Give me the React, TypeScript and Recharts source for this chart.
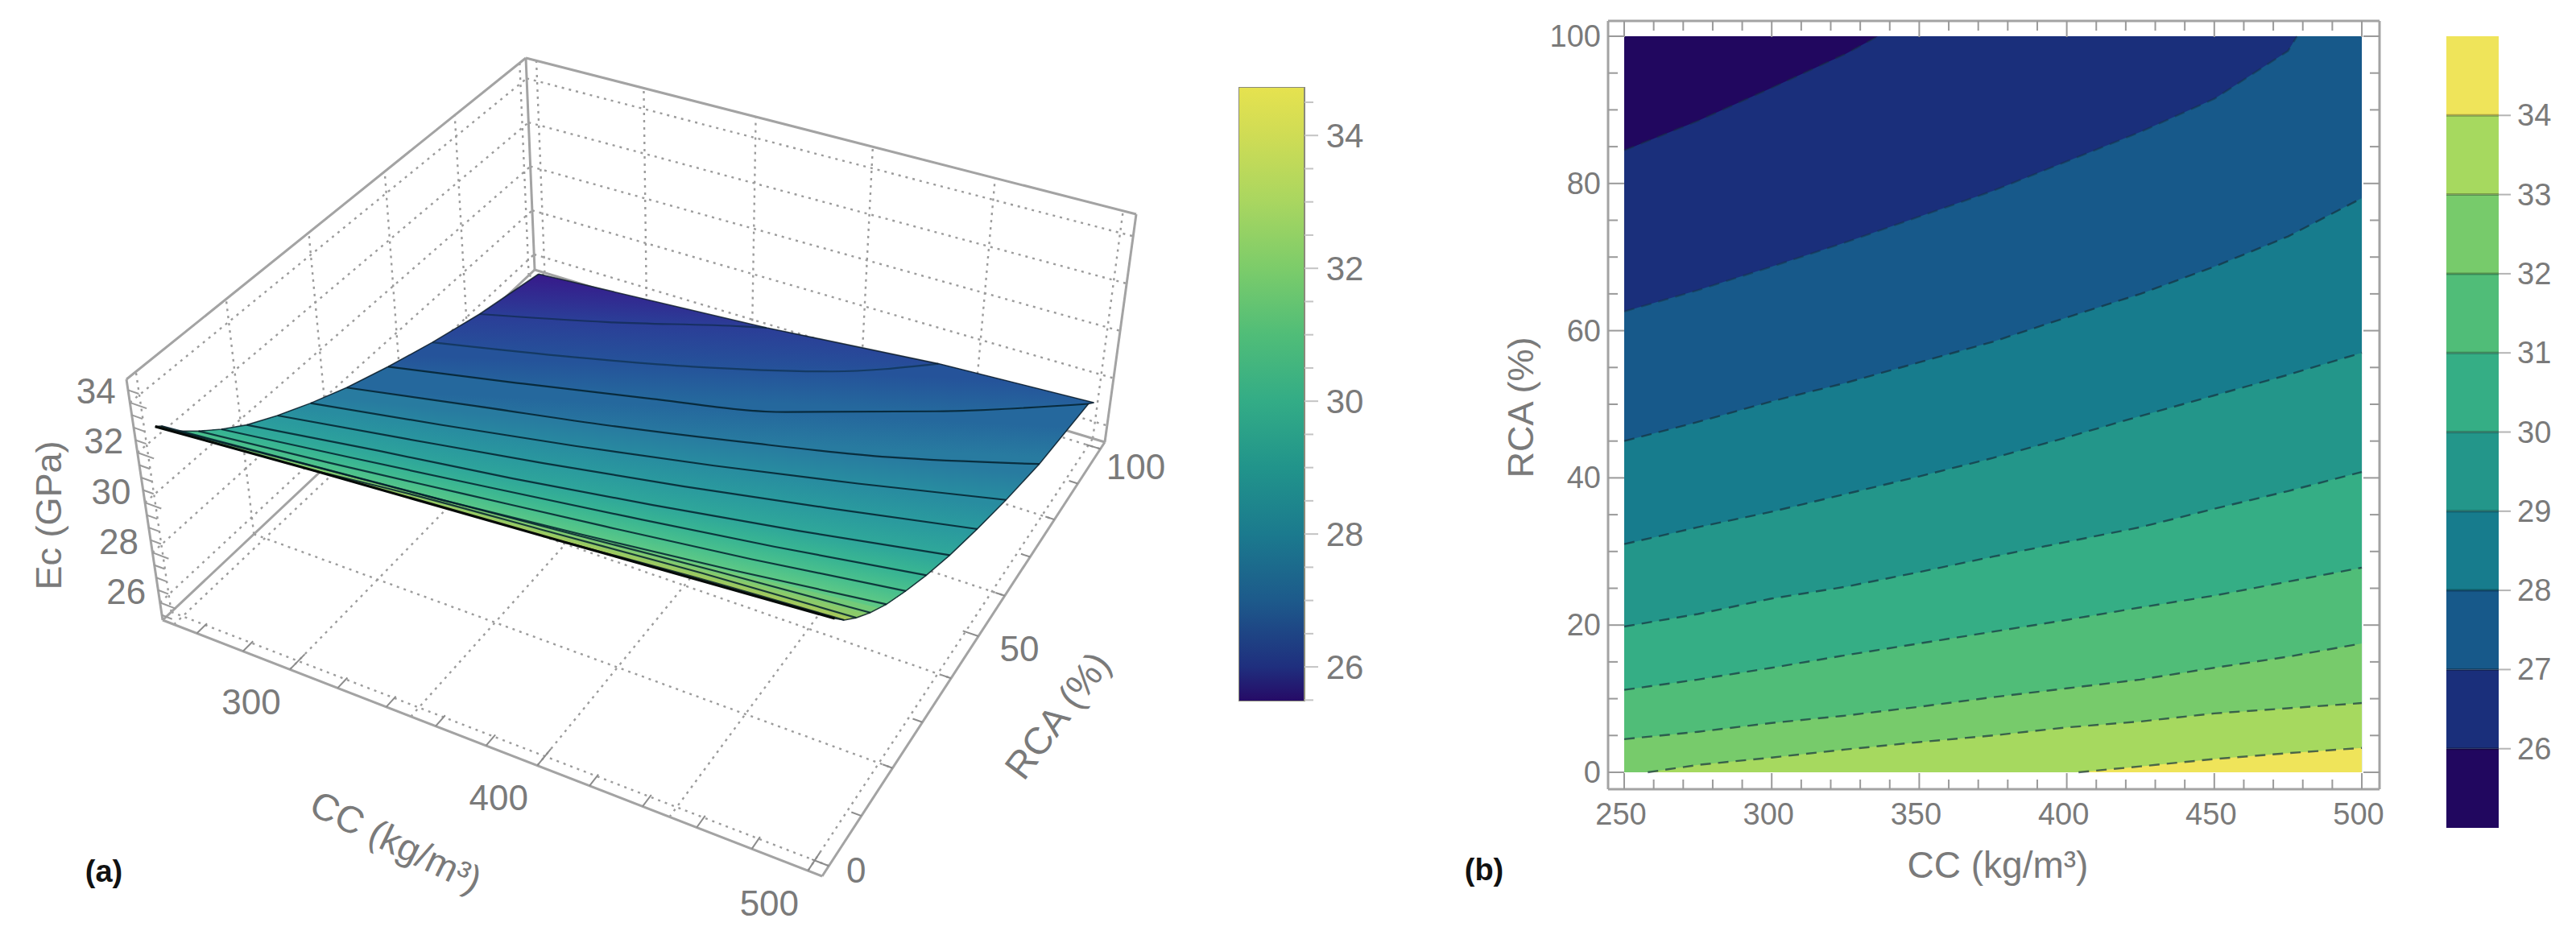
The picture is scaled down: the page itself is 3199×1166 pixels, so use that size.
import React from "react";
import {
  Bar,
  BarChart,
  ReferenceLine,
  Scatter,
  ScatterChart,
  XAxis,
  YAxis,
} from "recharts";

/* ---------- values ---------- */

// dashed contour lines of panel (b): CC (kg/m3) and RCA (%) along each line
const contourLevels = [26, 27, 28, 29, 30, 31, 32, 33, 34];
const fullCc = [250, 275, 300, 325, 350, 375, 400, 425, 450, 475, 500];
const cc26 = [250, 275, 300, 325, 336];
const rca26 = [84.5, 88.5, 93, 97.6, 100];
const cc27 = [250, 275, 300, 325, 350, 375, 400, 425, 450, 475, 478];
const rca27 = [62.6, 65.5, 68.7, 72, 75.5, 79, 83, 87, 91.5, 98, 100];
const rca28 = [45, 47.6, 50.4, 52.9, 55.7, 58.5, 61.8, 65, 68.7, 72.8, 78];
const rca29 = [31, 33.3, 35.4, 37.8, 40.2, 42.7, 45.5, 48.4, 51.2, 54, 57];
const rca30 = [19.8, 21.5, 23.6, 25.2, 27.2, 29.3, 31.3, 33.3, 35.8, 38.2, 40.8];
const rca31 = [11.2, 12.6, 14.2, 15.9, 17.5, 19.1, 20.7, 22.4, 24, 25.9, 27.8];
const rca32 = [4.5, 5.5, 6.7, 7.7, 8.9, 10.2, 11.4, 12.6, 14.2, 15.7, 17.5];
const cc33 = [258, 275, 300, 325, 350, 375, 400, 425, 450, 475, 500];
const rca33 = [0, 1, 2, 3.1, 4.1, 5, 6.1, 6.9, 8, 8.7, 9.4];
const cc34 = [404, 425, 450, 475, 500];
const rca34 = [0, 0.8, 1.8, 2.6, 3.3];

const contourCc = [cc26, cc27, fullCc, fullCc, fullCc, fullCc, fullCc, cc33, cc34];
const contourRca = [rca26, rca27, rca28, rca29, rca30, rca31, rca32, rca33, rca34];

// black mesh lines on the surface of panel (a)
const meshLevels = [26.16, 26.81, 27.47, 28.13, 28.79, 29.44, 30.1, 30.76, 31.41, 32.07, 32.73, 33.39, 34.04];
const meshGrid = [250, 300, 350, 400, 450, 500];
const meshCc = [
  [250, 300, 350, 359],
  [250, 300, 350, 400, 435],
  meshGrid, meshGrid, meshGrid, meshGrid, meshGrid, meshGrid, meshGrid, meshGrid, meshGrid,
  [315, 350, 400, 450, 500],
  [410, 450, 500],
];
const meshRca = [
  [81, 89.1, 98.5, 100],
  [66.8, 73.3, 80.7, 90, 100],
  [54.3, 60.1, 66.2, 73, 84, 97],
  [43.2, 48.5, 53.7, 59.7, 66.4, 75.3],
  [34, 38.6, 43.5, 48.9, 54.9, 61.4],
  [26, 30.2, 34.5, 39.2, 44.4, 49.9],
  [18.9, 22.7, 26.2, 30.2, 34.6, 39.5],
  [13.3, 16.5, 19.8, 23.2, 26.8, 30.9],
  [8.5, 11.1, 14, 16.9, 20, 23.6],
  [4.2, 6.4, 8.5, 11, 13.8, 17],
  [1.2, 3.3, 5.4, 7.5, 9.7, 11.6],
  [0, 1.8, 3.7, 5.6, 7],
  [0, 1.6, 3.1],
];

// the four corners of the response surface
const cornerCc = [250, 500, 500, 250];
const cornerRca = [100, 100, 0, 0];
const cornerEc = [25.5, 27.1, 34.7, 32.9];

// panel (b)
const bandColors = ["#21075f", "#1a2f7b", "#17598a", "#177c8d", "#23968a", "#35ae85", "#50bd78", "#77cb6b", "#a6d95f", "#efe45a"];
const bandSizes = [26, 1, 1, 1, 1, 1, 1, 1, 1, 1];
const ccTicks = [250, 260, 270, 280, 290, 300, 310, 320, 330, 340, 350, 360, 370, 380, 390, 400, 410, 420, 430, 440, 450, 460, 470, 480, 490, 500];
const ccLabels = [250, 300, 350, 400, 450, 500];
const rcaTicks = [0, 5, 10, 15, 20, 25, 30, 35, 40, 45, 50, 55, 60, 65, 70, 75, 80, 85, 90, 95, 100];
const rcaLabels = [0, 20, 40, 60, 80, 100];
const barTicksB = [26, 27, 28, 29, 30, 31, 32, 33, 34];

// panel (a)
const surfaceLevels = [25.5, 26, 27, 28, 29, 30, 31, 32, 33, 34, 34.7];
const surfaceColors = ["#37198a", "#2d3796", "#235a9b", "#2878a0", "#2891a0", "#2da59b", "#3cb991", "#5ac887", "#7ccb72", "#a6c85a", "#b6c850"];
const barLevelsA = [25.48, 26, 27, 28, 29, 30, 31, 32, 33, 34, 34.73];
const barColorsA = ["#260a66", "#1f2f7e", "#1d5a8b", "#1b7a8e", "#21948b", "#33ac86", "#50bd78", "#7ccc6a", "#a9d660", "#cfdc55", "#e6e24f"];
const barTicksA = [25.5, 26, 26.5, 27, 27.5, 28, 28.5, 29, 29.5, 30, 30.5, 31, 31.5, 32, 32.5, 33, 33.5, 34, 34.5];
const ccGrid = [250, 300, 350, 400, 450, 500];
const rcaGrid = [0, 20, 40, 60, 80, 100];
const ecGrid = [26, 28, 30, 32, 34];
const ccTicks3d = [260, 280, 300, 320, 340, 360, 380, 400, 420, 440, 460, 480, 500];
const rcaTicks3d = [0, 10, 20, 30, 40, 50, 60, 70, 80, 90, 100];
const ecTicks3d = [25.5, 26, 26.5, 27, 27.5, 28, 28.5, 29, 29.5, 30, 30.5, 31, 31.5, 32, 32.5, 33, 33.5, 34, 34.5];

/* ---------- shared look ---------- */

const FONT = "'Liberation Sans', Arial, sans-serif";
const TEXT = "#7a7a7a";
const EDGE = "#a3a3a3";

type P = { x: number; y: number };
type P3 = { cc: number; rca: number; ec: number };

/* ---------- box projection for panel (a) ---------- */

const ccLo = 245, ccHi = 505, rcaLo = -2, rcaHi = 102, ecLo = 25.3, ecHi = 34.93;

function squareToQuad(p00: number[], p10: number[], p11: number[], p01: number[]) {
  const [x0, y0] = p00, [x1, y1] = p10, [x2, y2] = p11, [x3, y3] = p01;
  const dx1 = x1 - x2, dx2 = x3 - x2, sx = x0 - x1 + x2 - x3;
  const dy1 = y1 - y2, dy2 = y3 - y2, sy = y0 - y1 + y2 - y3;
  const den = dx1 * dy2 - dx2 * dy1;
  const g = (sx * dy2 - dx2 * sy) / den;
  const h = (dx1 * sy - sx * dy1) / den;
  const a = x1 - x0 + g * x1, b = x3 - x0 + h * x3;
  const d = y1 - y0 + g * y1, e = y3 - y0 + h * y3;
  return (u: number, v: number): P => {
    const w = g * u + h * v + 1;
    return { x: (a * u + b * v + x0) / w, y: (d * u + e * v + y0) / w };
  };
}

const floorMap = squareToQuad([202, 770], [1021, 1088], [1372, 549], [664, 335]);
const topMap = squareToQuad([157, 471], [1048, 780], [1411, 266], [653, 72]);

function project(cc: number, rca: number, ec: number): P {
  const u = (cc - ccLo) / (ccHi - ccLo);
  const v = (rca - rcaLo) / (rcaHi - rcaLo);
  const w = (ec - ecLo) / (ecHi - ecLo);
  const a = floorMap(u, v), b = topMap(u, v);
  return { x: a.x + (b.x - a.x) * w, y: a.y + (b.y - a.y) * w };
}

/* ---------- polygons between level lines, used by both panels ---------- */

const buildLines = (levels: number[], ccs: number[][], rcas: number[][]): P3[][] =>
  levels.map((ec, i) => ccs[i].map((cc, j) => ({ cc, rca: rcas[i][j], ec })));

// position along the edge of the CC/RCA square, clockwise from the far corner
function edgePos(p: P3) {
  if (p.rca === 100) return p.cc - 250;
  if (p.cc === 500) return 350 - p.rca;
  if (p.rca === 0) return 850 - p.cc;
  return 600 + p.rca;
}

function buildPerimeter(lines: P3[][]): P3[] {
  return [
    ...cornerCc.map((cc, i) => ({ cc, rca: cornerRca[i], ec: cornerEc[i] })),
    ...lines.flatMap((c) => [c[0], c[c.length - 1]]),
  ].sort((a, b) => edgePos(a) - edgePos(b));
}

// the whole square, then everything at or above each level line
function buildRegions(lines: P3[][], perimeter: P3[]): P3[][] {
  return [
    perimeter,
    ...lines.map((c) => {
      const from = edgePos(c[c.length - 1]);
      const to = edgePos(c[0]);
      return [...c, ...perimeter.filter((p) => edgePos(p) > from && edgePos(p) < to)];
    }),
  ];
}

const contours = buildLines(contourLevels, contourCc, contourRca);
const contourRegions = buildRegions(contours, buildPerimeter(contours));
const mesh = buildLines(meshLevels, meshCc, meshRca);
const meshPerimeter = buildPerimeter(mesh);
const meshRegions = buildRegions(mesh, meshPerimeter);

const closed = <T,>(pts: T[]): T[] => [...pts, pts[0]];
const proj = (p: P3) => project(p.cc, p.rca, p.ec);
const flat = (p: P3): P => ({ x: p.cc, y: p.rca });

const hex = (c: string) => [1, 3, 5].map((i) => parseInt(c.slice(i, i + 2), 16));
function surfaceColour(ec: number) {
  let i = 0;
  while (i < surfaceLevels.length - 2 && ec > surfaceLevels[i + 1]) i++;
  const t = Math.min(1, Math.max(0, (ec - surfaceLevels[i]) / (surfaceLevels[i + 1] - surfaceLevels[i])));
  const a = hex(surfaceColors[i]), b = hex(surfaceColors[i + 1]);
  return `rgb(${a.map((v, k) => Math.round(v + (b[k] - v) * t)).join(",")})`;
}

// each band gets a gradient running square to the mesh line that bounds it
function bandGradient(i: number) {
  const far = meshPerimeter[0];
  const near = meshPerimeter.find((p) => p.cc === 500 && p.rca === 0) as P3;
  const upper = i === 0 ? mesh[0] : mesh[i - 1];
  const start = i === 0 ? far : upper[Math.floor(upper.length / 2)];
  const lower = mesh[i];
  const end = lower
    ? lower.reduce((best, p) => (Math.abs(p.cc - start.cc) < Math.abs(best.cc - start.cc) ? p : best), lower[0])
    : near;
  const a = proj(start), b = proj(end);
  const c0 = proj(upper[0]), c1 = proj(upper[upper.length - 1]);
  const len = Math.hypot(c1.x - c0.x, c1.y - c0.y);
  const nx = -(c1.y - c0.y) / len, ny = (c1.x - c0.x) / len;
  const t = (b.x - a.x) * nx + (b.y - a.y) * ny;
  return { x1: a.x, y1: a.y, x2: a.x + nx * t, y2: a.y + ny * t, from: start.ec, to: end.ec };
}

/* ---------- small drawing helpers ---------- */

const NoMark = () => null;

// a Scatter whose joined line is the mark
function lineSeries(key: string, pts: P[], stroke: string, width: number, dash?: string, fill = "none", opacity = 1, curve: any = "linear") {
  return (
    <Scatter
      key={key}
      data={pts}
      shape={NoMark}
      isAnimationActive={false}
      lineJointType={curve}
      line={{ stroke, strokeWidth: width, strokeDasharray: dash, fill, strokeOpacity: opacity }}
    />
  );
}

const TextMark = (p: any) => {
  const d = p.payload;
  return (
    <text
      x={p.cx}
      y={p.cy}
      textAnchor="middle"
      dominantBaseline="central"
      fontFamily={FONT}
      fontSize={d.size}
      fill={d.color ?? TEXT}
      fontWeight={d.weight ?? 400}
      transform={d.angle ? `rotate(${d.angle} ${p.cx} ${p.cy})` : undefined}
    >
      {d.label}
    </text>
  );
};

/* ---------- panel (a) ---------- */

const line3 = (a: number[], b: number[]): P[] => [project(a[0], a[1], a[2]), project(b[0], b[1], b[2])];

function Surface3D() {
  const dotted = "3 6";
  const gridGrey = "#9c9c9c";
  const series: React.ReactNode[] = [];

  // walls and floor grid
  ecGrid.forEach((z) => {
    series.push(lineSeries(`gz-b${z}`, line3([ccLo, rcaHi, z], [ccHi, rcaHi, z]), gridGrey, 2.4, dotted));
    series.push(lineSeries(`gz-l${z}`, line3([ccLo, rcaLo, z], [ccLo, rcaHi, z]), gridGrey, 2.4, dotted));
  });
  ccGrid.forEach((c) => {
    series.push(lineSeries(`gc-w${c}`, line3([c, rcaHi, ecLo], [c, rcaHi, ecHi]), gridGrey, 2.4, dotted));
    series.push(lineSeries(`gc-f${c}`, line3([c, rcaLo, ecLo], [c, rcaHi, ecLo]), gridGrey, 2.4, dotted));
  });
  rcaGrid.forEach((r) => {
    series.push(lineSeries(`gr-w${r}`, line3([ccLo, r, ecLo], [ccLo, r, ecHi]), gridGrey, 2.4, dotted));
    series.push(lineSeries(`gr-f${r}`, line3([ccLo, r, ecLo], [ccHi, r, ecLo]), gridGrey, 2.4, dotted));
  });

  // box edges
  const edges: number[][][] = [
    [[ccLo, rcaLo, ecHi], [ccLo, rcaHi, ecHi]],
    [[ccLo, rcaHi, ecHi], [ccHi, rcaHi, ecHi]],
    [[ccLo, rcaLo, ecLo], [ccLo, rcaLo, ecHi]],
    [[ccLo, rcaHi, ecLo], [ccLo, rcaHi, ecHi]],
    [[ccHi, rcaHi, ecLo], [ccHi, rcaHi, ecHi]],
    [[ccLo, rcaLo, ecLo], [ccHi, rcaLo, ecLo]],
    [[ccHi, rcaLo, ecLo], [ccHi, rcaHi, ecLo]],
    [[ccLo, rcaLo, ecLo], [ccLo, rcaHi, ecLo]],
    [[ccLo, rcaHi, ecLo], [ccHi, rcaHi, ecLo]],
  ];
  edges.forEach((e, i) => series.push(lineSeries(`edge${i}`, line3(e[0], e[1]), EDGE, 3)));

  // ticks
  ccTicks3d.forEach((c) => {
    const len = c % 100 === 0 ? 3.6 : 2.4;
    series.push(lineSeries(`tc${c}`, line3([c, rcaLo, ecLo], [c, rcaLo + len, ecLo]), "#8c8c8c", 2));
  });
  rcaTicks3d.forEach((r) => {
    const len = r % 50 === 0 ? 6 : 3.6;
    series.push(lineSeries(`tr${r}`, line3([ccHi, r, ecLo], [ccHi - len, r, ecLo]), "#8c8c8c", 2));
  });
  ecTicks3d.forEach((z) => {
    const len = z % 2 === 0 ? 7 : 4.5;
    series.push(lineSeries(`tz${z}`, line3([ccLo, rcaLo, z], [ccLo + len, rcaLo, z]), "#9a9a9a", 2));
  });

  // surface: paint the regions from the lowest level up
  meshRegions.forEach((r, i) => {
    series.push(lineSeries(`reg${i}`, closed(r).map(proj), "none", 0, undefined, `url(#surf${i})`));
  });
  mesh.forEach((c, i) => {
    series.push(lineSeries(`con${i}`, c.map(proj), "#03212e", 2.2, undefined, "none", i < 2 ? 0.5 : 0.85, "monotoneX"));
  });
  series.push(lineSeries("outline", closed(meshPerimeter).map(proj), "#0c1c24", 1.6, undefined, "none", 0.8));
  series.push(lineSeries("front", meshPerimeter.filter((p) => p.rca === 0).map(proj), "#050a08", 3.2));

  const ccLabelData = [300, 400, 500].map((c) => {
    const p = project(c, rcaLo, ecLo);
    return { x: p.x - 48, y: p.y + 40, label: String(c), size: 44 };
  });
  const rcaLabelData = [
    { v: 0, dx: 34, dy: 5 },
    { v: 50, dx: 51, dy: 16 },
    { v: 100, dx: 44, dy: 22 },
  ].map(({ v, dx, dy }) => {
    const p = project(ccHi, v, ecLo);
    return { x: p.x + dx, y: p.y + dy, label: String(v), size: 44 };
  });
  const ecLabelData = ecGrid.map((z) => {
    const p = project(ccLo, rcaLo, z);
    return { x: p.x - 42, y: p.y - 14, label: String(z), size: 44 };
  });
  const titleData = [
    { x: 492, y: 1045, label: "CC (kg/m³)", size: 47, angle: 26 },
    { x: 1313, y: 888, label: "RCA (%)", size: 47, angle: -53 },
    { x: 60, y: 640, label: "Ec (GPa)", size: 45, angle: -90 },
    { x: 129, y: 1082, label: "(a)", size: 38, weight: 700, color: "#111111" },
  ];

  return (
    <ScatterChart width={1500} height={1166} margin={{ top: 0, right: 0, bottom: 0, left: 0 }}>
      <defs>
        {meshRegions.map((_, i) => {
          const g = bandGradient(i);
          return (
            <linearGradient key={i} id={`surf${i}`} gradientUnits="userSpaceOnUse" x1={g.x1} y1={g.y1} x2={g.x2} y2={g.y2}>
              <stop offset="0" stopColor={surfaceColour(g.from)} />
              <stop offset="1" stopColor={surfaceColour(g.to)} />
            </linearGradient>
          );
        })}
      </defs>
      <XAxis type="number" dataKey="x" domain={[0, 1500]} hide allowDataOverflow />
      <YAxis type="number" dataKey="y" domain={[0, 1166]} reversed hide allowDataOverflow />
      {series}
      <Scatter data={[...ccLabelData, ...rcaLabelData, ...ecLabelData, ...titleData]} shape={TextMark} isAnimationActive={false} />
    </ScatterChart>
  );
}

const barDomainA = [barLevelsA[0], barLevelsA[barLevelsA.length - 1]];

const BarTickA = ({ x, y, payload }: any) => {
  const major = payload.value % 2 === 0;
  return (
    <g>
      <line x1={x} x2={x + (major ? 17 : 11)} y1={y} y2={y} stroke="#c4c4c4" strokeWidth={2} />
      {major && (
        <text x={x + 50} y={y} textAnchor="middle" dominantBaseline="central" fontFamily={FONT} fontSize={42} fill={TEXT}>
          {payload.value}
        </text>
      )}
    </g>
  );
};

function ColorBarA() {
  const span = barDomainA[1] - barDomainA[0];
  return (
    <BarChart width={202} height={763} data={[{ name: "Ec", top: barDomainA[1] }]} margin={{ top: 0, right: 0, bottom: 0, left: 0 }} barCategoryGap={0}>
      <defs>
        <linearGradient id="barA" x1="0" y1="1" x2="0" y2="0">
          {barLevelsA.map((v, i) => (
            <stop key={v} offset={(v - barDomainA[0]) / span} stopColor={barColorsA[i]} />
          ))}
        </linearGradient>
      </defs>
      <XAxis dataKey="name" hide />
      <YAxis orientation="right" width={120} type="number" domain={barDomainA} ticks={barTicksA} interval={0} allowDataOverflow tick={BarTickA} tickLine={false} axisLine={false} tickSize={0} tickMargin={0} />
      <Bar dataKey="top" fill="url(#barA)" stroke="#8a8a7a" strokeWidth={2} isAnimationActive={false} />
    </BarChart>
  );
}

/* ---------- panel (b) ---------- */

const xTickBottom = ({ x, y, payload }: any) => {
  const major = ccLabels.includes(payload.value);
  return (
    <g>
      <line x1={x} x2={x} y1={y} y2={y - (major ? 20 : 12)} stroke="#9a9a9a" strokeWidth={2} />
      {major && (
        <text x={x - 4} y={y + 31} textAnchor="middle" dominantBaseline="central" fontFamily={FONT} fontSize={38} fill={TEXT}>
          {payload.value}
        </text>
      )}
    </g>
  );
};

const xTickTop = ({ x, y, payload }: any) => (
  <line x1={x} x2={x} y1={y} y2={y + (ccLabels.includes(payload.value) ? 20 : 12)} stroke="#9a9a9a" strokeWidth={2} />
);

const yTickLeft = ({ x, y, payload }: any) => {
  const major = rcaLabels.includes(payload.value);
  return (
    <g>
      <line x1={x} x2={x + (major ? 20 : 12)} y1={y} y2={y} stroke="#9a9a9a" strokeWidth={2} />
      {major && (
        <text x={x - 9} y={y} textAnchor="end" dominantBaseline="central" fontFamily={FONT} fontSize={38} fill={TEXT}>
          {payload.value}
        </text>
      )}
    </g>
  );
};

const yTickRight = ({ x, y, payload }: any) => (
  <line x1={x} x2={x - (rcaLabels.includes(payload.value) ? 20 : 12)} y1={y} y2={y} stroke="#9a9a9a" strokeWidth={2} />
);

function ContourPlot() {
  const ccDomain = [244.54, 506];
  const rcaDomain = [-2.3, 102.08];
  const frame = { stroke: "#a3a3a3", strokeWidth: 3 };
  return (
    <ScatterChart width={1100} height={1166} margin={{ top: 25, right: 24, bottom: 126, left: 0 }}>
      <XAxis type="number" dataKey="x" domain={ccDomain} ticks={ccTicks} interval={0} allowDataOverflow height={60} tick={xTickBottom} tickLine={false} tickSize={0} tickMargin={0} axisLine={frame} />
      <XAxis xAxisId="top" orientation="top" type="number" dataKey="x" domain={ccDomain} ticks={ccTicks} interval={0} allowDataOverflow height={1} tick={xTickTop} tickLine={false} tickSize={0} tickMargin={0} axisLine={frame} />
      <YAxis type="number" dataKey="y" domain={rcaDomain} ticks={rcaTicks} interval={0} allowDataOverflow width={117} tick={yTickLeft} tickLine={false} tickSize={0} tickMargin={0} axisLine={frame} />
      <YAxis yAxisId="right" orientation="right" type="number" dataKey="y" domain={rcaDomain} ticks={rcaTicks} interval={0} allowDataOverflow width={1} tick={yTickRight} tickLine={false} tickSize={0} tickMargin={0} axisLine={frame} />
      {contourRegions.map((r, i) => lineSeries(`band${i}`, closed(r).map(flat), "none", 0, undefined, bandColors[i]))}
      {contours.map((c, i) => lineSeries(`dash${i}`, c.map(flat), "#16323f", 2.4, "13 9", "none", i < 2 ? 0.45 : 0.7))}
      <Scatter xAxisId="top" yAxisId="right" data={[{ x: 250, y: 0 }]} shape={NoMark} isAnimationActive={false} />
    </ScatterChart>
  );
}

const BarTickB = ({ x, y, payload }: any) => (
  <g>
    <line x1={x} x2={x + 15} y1={y} y2={y} stroke="#b4b4b4" strokeWidth={2} />
    <text x={x + 23} y={y} textAnchor="start" dominantBaseline="central" fontFamily={FONT} fontSize={38} fill={TEXT}>
      {payload.value}
    </text>
  </g>
);

function ColorBarB() {
  const row: Record<string, number | string> = { name: "Ec" };
  bandSizes.forEach((s, i) => (row[`b${i}`] = s));
  return (
    <BarChart width={161} height={983} data={[row]} margin={{ top: 0, right: 0, bottom: 0, left: 0 }} barCategoryGap={0}>
      <XAxis dataKey="name" hide />
      <YAxis orientation="right" width={96} type="number" domain={[25, 35]} ticks={barTicksB} interval={0} allowDataOverflow tick={BarTickB} tickLine={false} axisLine={false} tickSize={0} tickMargin={0} />
      {bandSizes.map((_, i) => (
        <Bar key={i} dataKey={`b${i}`} stackId="bands" fill={bandColors[i]} isAnimationActive={false} />
      ))}
      {barTicksB.map((v) => (
        <ReferenceLine key={v} y={v} stroke="#000000" strokeOpacity={0.28} strokeWidth={3} />
      ))}
    </BarChart>
  );
}

const captions = [
  { left: 1889, top: 506, text: "RCA (%)", size: 45, rotate: -90 },
  { left: 2481, top: 1074, text: "CC (kg/m³)", size: 46, rotate: 0 },
];

export default function App() {
  const box = (left: number, top: number): React.CSSProperties => ({ position: "absolute", left, top });
  return (
    <div style={{ position: "absolute", left: 0, top: 0, width: 3199, height: 1166, background: "#fff", overflow: "hidden" }}>
      <div style={box(0, 0)}><Surface3D /></div>
      <div style={box(1538, 108)}><ColorBarA /></div>
      <div style={box(1880, 0)}><ContourPlot /></div>
      <div style={box(3038, 45)}><ColorBarB /></div>
      {captions.map((c) => (
        <div
          key={c.text}
          style={{
            ...box(c.left, c.top),
            transform: `translate(-50%, -50%) rotate(${c.rotate}deg)`,
            fontFamily: FONT,
            fontSize: c.size,
            color: TEXT,
            whiteSpace: "nowrap",
          }}
        >
          {c.text}
        </div>
      ))}
      <div style={{ ...box(1843, 1080), transform: "translate(-50%, -50%)", fontFamily: FONT, fontSize: 38, fontWeight: 700, color: "#111" }}>(b)</div>
    </div>
  );
}
